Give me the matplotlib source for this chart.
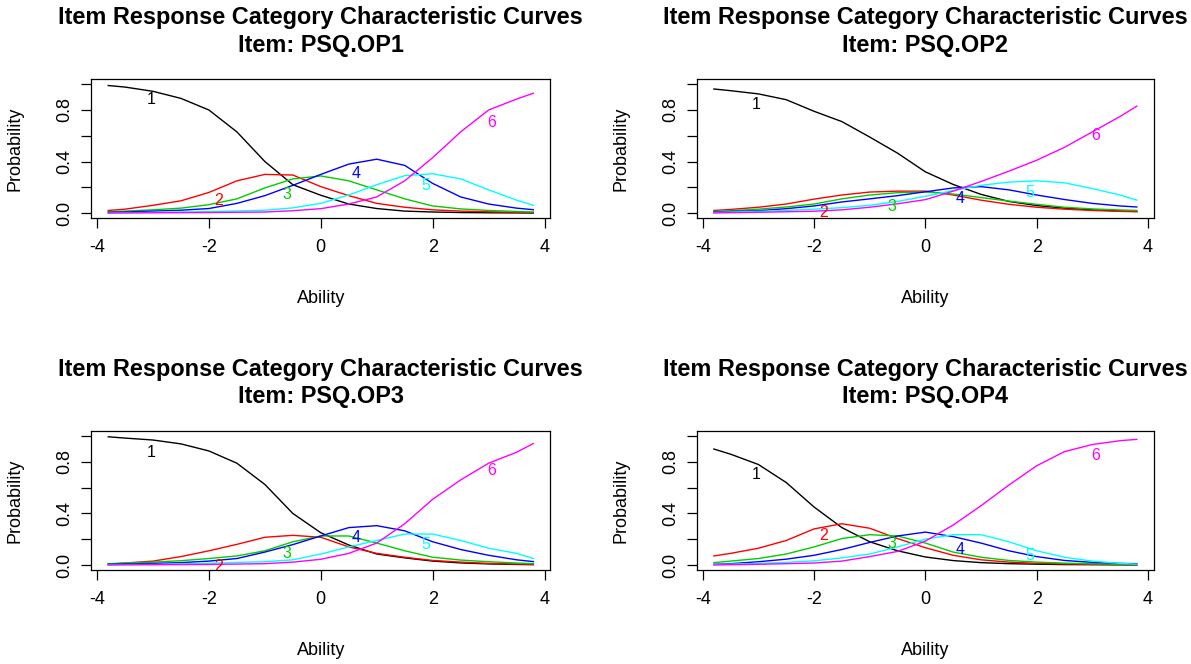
import matplotlib
matplotlib.use("Agg")
import matplotlib.pyplot as plt

plt.rcParams['font.family'] = ['Liberation Sans', 'DejaVu Sans']
plt.rcParams['axes.unicode_minus'] = False

# ability grid
theta = [-3.8, -3.5, -3, -2.5, -2, -1.5, -1, -0.5, 0, 0.5, 1, 1.5, 2, 2.5, 3, 3.5, 3.8]

# PSQ.OP1
op1_c1 = [.99, .978, .945, .89, .80, .63, .40, .22, .138, .07, .035, .015, .008, .004, .002, .001, .0]
op1_c2 = [.02, .03, .06, .095, .16, .25, .30, .295, .205, .135, .075, .045, .025, .015, .01, .006, .005]
op1_c3 = [.01, .015, .025, .038, .065, .11, .195, .265, .288, .25, .18, .11, .055, .032, .02, .012, .008]
op1_c4 = [.005, .008, .015, .022, .035, .075, .135, .215, .30, .38, .418, .37, .23, .125, .07, .038, .026]
op1_c5 = [0, .002, .005, .008, .012, .016, .022, .04, .075, .14, .22, .29, .305, .265, .18, .10, .06]
op1_c6 = [0, .001, .002, .003, .004, .006, .008, .018, .034, .07, .125, .25, .43, .63, .80, .885, .93]

# PSQ.OP2
op2_c1 = [.963, .95, .925, .88, .79, .71, .59, .465, .32, .222, .145, .09, .058, .038, .025, .016, .013]
op2_c2 = [.02, .028, .045, .07, .108, .14, .163, .17, .17, .14, .10, .068, .045, .03, .02, .013, .01]
op2_c3 = [.012, .018, .03, .047, .07, .11, .14, .158, .164, .148, .12, .093, .068, .045, .032, .024, .02]
op2_c4 = [.008, .012, .018, .034, .055, .086, .11, .135, .165, .195, .205, .18, .14, .105, .075, .055, .047]
op2_c5 = [.004, .008, .013, .02, .03, .042, .06, .09, .13, .175, .215, .24, .25, .235, .19, .14, .10]
op2_c6 = [0, .003, .006, .01, .014, .025, .045, .072, .104, .17, .245, .325, .41, .51, .63, .75, .83]

# PSQ.OP3
op3_c1 = [.995, .985, .97, .94, .885, .79, .625, .40, .25, .155, .085, .055, .03, .016, .008, .004, .002]
op3_c2 = [.005, .015, .03, .065, .11, .16, .215, .23, .215, .14, .09, .06, .035, .022, .012, .007, .005]
op3_c3 = [.01, .015, .022, .033, .05, .07, .11, .18, .225, .225, .17, .11, .06, .038, .025, .015, .01]
op3_c4 = [.005, .007, .012, .018, .03, .05, .10, .158, .225, .29, .305, .265, .18, .12, .075, .04, .026]
op3_c5 = [0, .002, .004, .008, .013, .02, .025, .04, .085, .14, .19, .24, .24, .19, .13, .09, .05]
op3_c6 = [0, .001, .002, .003, .004, .007, .01, .022, .044, .09, .17, .32, .51, .66, .79, .875, .943]

# PSQ.OP4
op4_c1 = [.90, .86, .78, .64, .45, .29, .18, .11, .062, .034, .018, .01, .006, .003, .002, .001, 0]
op4_c2 = [.07, .09, .13, .19, .28, .32, .285, .205, .134, .075, .04, .022, .013, .008, .005, .003, .002]
op4_c3 = [.018, .03, .05, .085, .14, .205, .235, .225, .17, .10, .06, .035, .022, .014, .009, .005, .004]
op4_c4 = [.005, .01, .025, .045, .075, .12, .175, .225, .255, .22, .17, .11, .065, .035, .02, .012, .01]
op4_c5 = [.003, .006, .012, .02, .032, .055, .085, .14, .20, .235, .235, .18, .11, .06, .03, .012, .006]
op4_c6 = [0, .002, .005, .01, .015, .03, .065, .105, .185, .31, .46, .62, .77, .88, .935, .965, .975]

# category label positions
lab_x = [-3.04, -1.83, -0.6, 0.63, 1.88, 3.06]
op1_lab_y = [.88, .10, .145, .306, .216, .70]
op2_lab_y = [.844, .008, .047, .11, .156, .60]
op3_lab_y = [.876, -.01, .09, .214, .156, .73]
op4_lab_y = [.70, .225, .165, .12, .07, .85]

items = ['PSQ.OP1', 'PSQ.OP2', 'PSQ.OP3', 'PSQ.OP4']
curves = [
    [op1_c1, op1_c2, op1_c3, op1_c4, op1_c5, op1_c6],
    [op2_c1, op2_c2, op2_c3, op2_c4, op2_c5, op2_c6],
    [op3_c1, op3_c2, op3_c3, op3_c4, op3_c5, op3_c6],
    [op4_c1, op4_c2, op4_c3, op4_c4, op4_c5, op4_c6],
]
label_y = [op1_lab_y, op2_lab_y, op3_lab_y, op4_lab_y]
cats = ['1', '2', '3', '4', '5', '6']
colors = ['black', '#FF0000', '#00CD00', '#0000FF', '#00FFFF', '#FF00FF']

fig = plt.figure(figsize=(11.91, 6.64), dpi=100)
# axes boxes (left, bottom, width, height) in figure fractions
boxes = [
    [0.0766, 0.6714, 0.3855, 0.2095],
    [0.5852, 0.6714, 0.3835, 0.2095],
    [0.0766, 0.1414, 0.3855, 0.2095],
    [0.5852, 0.1414, 0.3835, 0.2095],
]

for k in range(4):
    ax = fig.add_axes(boxes[k])
    for i in range(6):
        ax.plot(theta, curves[k][i], color=colors[i], linewidth=1.0)
        ax.text(lab_x[i], label_y[k][i], cats[i], color=colors[i],
                fontsize=11.5, ha='center', va='center', clip_on=True)
    ax.set_xlim(-4.104, 4.104)
    ax.set_ylim(-0.04, 1.04)
    ax.set_xticks([-4, -2, 0, 2, 4])
    ax.set_xticklabels(['-4', '-2', '0', '2', '4'])
    ax.set_yticks([0, 0.2, 0.4, 0.6, 0.8, 1.0])
    ax.set_yticklabels(['0.0', '', '0.4', '', '0.8', ''], rotation=90, va='center')
    ax.tick_params(direction='out', length=7, width=0.9, labelsize=13)
    ax.tick_params(axis='x', pad=8)
    ax.tick_params(axis='y', pad=6)
    for s in ax.spines.values():
        s.set_linewidth(0.9)
    ax.text(0.5, 1.44, 'Item Response Category Characteristic Curves',
            transform=ax.transAxes, ha='center', va='center',
            fontsize=16.9, fontweight='bold')
    ax.text(0.5, 1.245, 'Item: ' + items[k], transform=ax.transAxes,
            ha='center', va='center', fontsize=16.9, fontweight='bold')
    ax.text(0.5, -0.575, 'Ability', transform=ax.transAxes,
            ha='center', va='center', fontsize=13)
    ax.text(-0.166, 0.5, 'Probability', transform=ax.transAxes, rotation=90,
            ha='center', va='center', fontsize=13)

fig.savefig('out.png', dpi=100)
